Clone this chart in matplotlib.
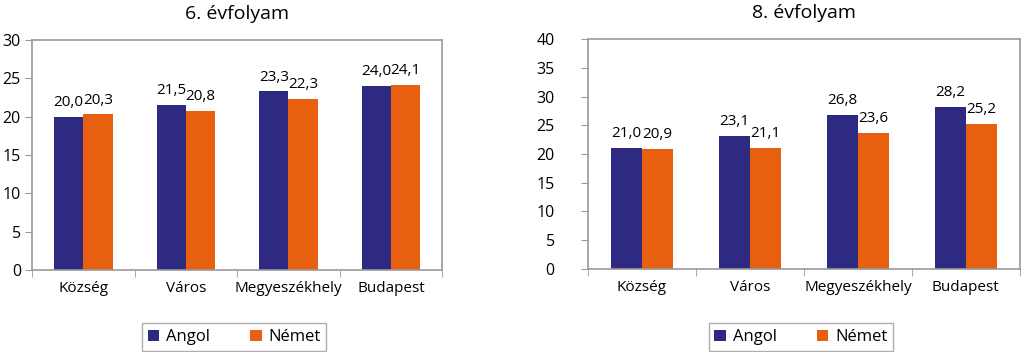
import matplotlib
matplotlib.use("Agg")
import matplotlib.pyplot as plt
import numpy as np

plt.rcParams['font.family'] = ['Open Sans', 'DejaVu Sans']

categories = ['Község', 'Város', 'Megyeszékhely', 'Budapest']
series_names = ['Angol', 'Német']
angol_6 = [20.0, 21.5, 23.3, 24.0]
nemet_6 = [20.3, 20.8, 22.3, 24.1]
angol_8 = [21.0, 23.1, 26.8, 28.2]
nemet_8 = [20.9, 21.1, 23.6, 25.2]

blue = '#2E2A82'
orange = '#E8600F'
frame = '#9A9A9A'

fig = plt.figure(figsize=(10.23, 3.52), dpi=100)
ax1 = fig.add_axes([0.0313, 0.233, 0.401, 0.653])
ax2 = fig.add_axes([0.5748, 0.236, 0.422, 0.653])


def draw(ax, a, n, title, ymax, ypad):
    x = np.arange(len(categories))
    w = 0.285
    ax.bar(x - w / 2, a, w, color=blue, label=series_names[0])
    ax.bar(x + w / 2, n, w, color=orange, label=series_names[1])
    for xi, v in zip(x - w / 2, a):
        ax.text(xi, v + ymax * 0.03, f'{v:.1f}'.replace('.', ','),
                ha='center', va='bottom', fontsize=11)
    for xi, v in zip(x + w / 2, n):
        ax.text(xi, v + ymax * 0.03, f'{v:.1f}'.replace('.', ','),
                ha='center', va='bottom', fontsize=11)
    ax.set_xlim(-0.5, len(categories) - 0.5)
    ax.set_ylim(0, ymax)
    ax.set_yticks(np.arange(0, ymax + 1, 5))
    ax.set_xticks(x)
    ax.set_xticklabels(categories, fontsize=11)
    ax.set_xticks(np.arange(-0.5, len(categories), 1), minor=True)
    ax.tick_params(axis='x', which='major', length=0, pad=8)
    ax.tick_params(axis='x', which='minor', length=5, color=frame, direction='out')
    ax.tick_params(axis='y', length=5, color=frame, labelsize=11.5, pad=ypad)
    for s in ax.spines.values():
        s.set_color(frame)
        s.set_linewidth(1.2)
    ax.set_title(title, fontsize=14, pad=15)
    return ax


draw(ax1, angol_6, nemet_6, '6. évfolyam', 30, 3)
draw(ax2, angol_8, nemet_8, '8. évfolyam', 40, 19)

for ax in (ax1, ax2):
    h, l = ax.get_legend_handles_labels()
    bb = ax.get_position()
    cx = (bb.x0 + bb.x1) / 2
    leg = fig.legend(h, l, loc='center', ncol=2, bbox_to_anchor=(cx - 0.003, 0.042),
                     frameon=True, fancybox=False, fontsize=12,
                     handlelength=0.7, handleheight=0.7, columnspacing=2.4,
                     handletextpad=0.4, borderpad=0.35)
    leg.get_frame().set_edgecolor(frame)
    leg.get_frame().set_linewidth(1.0)

fig.savefig('out.png', dpi=100)
